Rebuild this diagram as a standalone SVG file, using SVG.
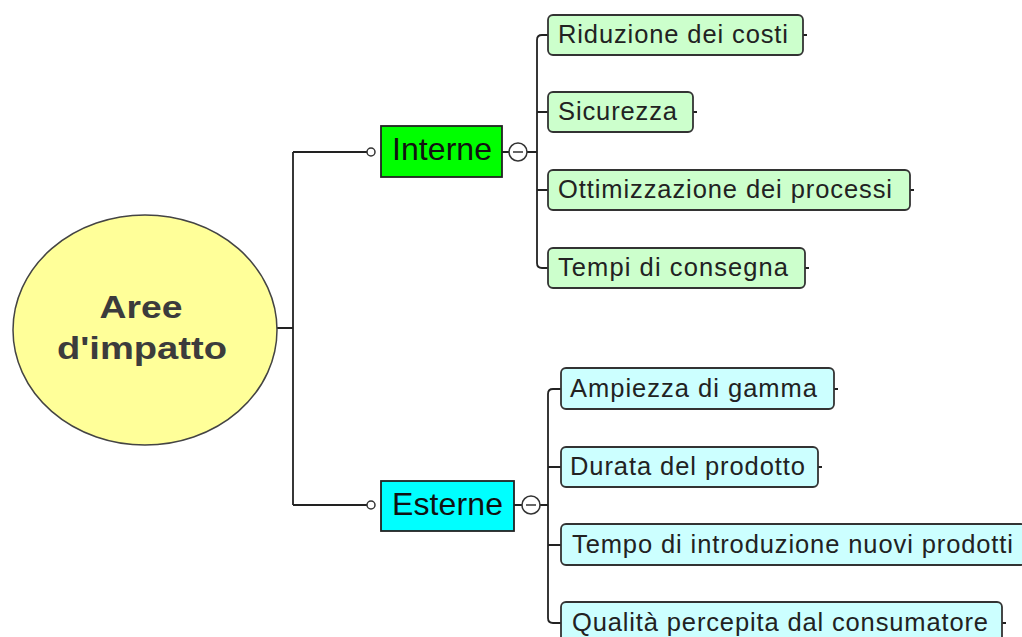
<svg xmlns="http://www.w3.org/2000/svg" width="1022" height="637" viewBox="0 0 1022 637">
<style>
.ln{fill:none;stroke:#222;stroke-width:1.8}
.child{stroke:#333;stroke-width:1.8}
.g{fill:#ccffcc}
.c{fill:#ccffff}
.t{font-family:"Liberation Sans",Arial,sans-serif;font-size:25.5px;fill:#222}
.mt{font-family:"Liberation Sans",Arial,sans-serif;font-size:32px;fill:#111}
.oc{fill:#fff;stroke:#333;stroke-width:1.5}
</style>
<rect width="1022" height="637" fill="#fff"/>
<g id="connectors">
<path class="ln" d="M277 328H293M293 152V505M293 152H367M293 505H367"/>
<path class="ln" d="M502 152H509M527 152H537M537 40V263M537 40Q537 35 542 35H548M537 112H548M537 190H548M537 263Q537 268 542 268H548"/>
<path class="ln" d="M514 505H522M540 505H548M548 394V618M548 394Q548 389 553 389H561M548 467H561M548 545H561M548 618Q548 623 553 623H561"/>
<path class="ln" d="M803 35H807M693 112H697M910 190H914M805 268H809M834 389H838M818 467H822M1002 623H1006"/>
<circle class="oc" cx="371" cy="152" r="4"/>
<circle class="oc" cx="371" cy="505" r="4"/>
</g>
<g id="center">
<ellipse cx="145" cy="330" rx="132" ry="115" fill="#ffff99" stroke="#444" stroke-width="1.5"/>
<text x="141" y="318" text-anchor="middle" font-family="Liberation Sans,Arial,sans-serif" font-weight="bold" font-size="32" fill="#3c3c3c" textLength="83" lengthAdjust="spacingAndGlyphs">Aree</text>
<text x="142" y="359" text-anchor="middle" font-family="Liberation Sans,Arial,sans-serif" font-weight="bold" font-size="32" fill="#3c3c3c" textLength="170" lengthAdjust="spacingAndGlyphs">d'impatto</text>
</g>
<g id="interne">
<rect x="381" y="126" width="121" height="51" fill="#00ff00" stroke="#222" stroke-width="1.8"/>
<text class="mt" x="392" y="160" textLength="100">Interne</text>
<circle class="oc" cx="518" cy="152" r="9"/>
<path d="M513 152H523" stroke="#333" stroke-width="1.5"/>
</g>
<g id="esterne">
<rect x="381" y="481" width="133" height="50" fill="#00ffff" stroke="#222" stroke-width="1.8"/>
<text class="mt" x="392" y="515" textLength="111">Esterne</text>
<circle class="oc" cx="531" cy="505" r="9"/>
<path d="M526 505H536" stroke="#333" stroke-width="1.5"/>
</g>
<g id="riduzione">
<rect class="child g" x="548" y="15" width="255" height="40" rx="5"/>
<text class="t" x="558" y="43" textLength="230">Riduzione dei costi</text>
</g>
<g id="sicurezza">
<rect class="child g" x="548" y="92" width="145" height="40" rx="5"/>
<text class="t" x="558" y="120" textLength="119">Sicurezza</text>
</g>
<g id="ottimizzazione">
<rect class="child g" x="548" y="170" width="362" height="40" rx="5"/>
<text class="t" x="558" y="198" textLength="334">Ottimizzazione dei processi</text>
</g>
<g id="tempi">
<rect class="child g" x="548" y="248" width="257" height="40" rx="5"/>
<text class="t" x="558" y="276" textLength="230">Tempi di consegna</text>
</g>
<g id="ampiezza">
<rect class="child c" x="561" y="368" width="273" height="41" rx="5"/>
<text class="t" x="570" y="397" textLength="247">Ampiezza di gamma</text>
</g>
<g id="durata">
<rect class="child c" x="561" y="447" width="257" height="40" rx="5"/>
<text class="t" x="570" y="475" textLength="235">Durata del prodotto</text>
</g>
<g id="tempo">
<rect class="child c" x="561" y="524" width="465" height="41" rx="5"/>
<text class="t" x="572" y="553" textLength="441">Tempo di introduzione nuovi prodotti</text>
</g>
<g id="qualita">
<rect class="child c" x="561" y="602" width="441" height="42" rx="5"/>
<text class="t" x="572" y="631" textLength="416">Qualità percepita dal consumatore</text>
</g>
</svg>
